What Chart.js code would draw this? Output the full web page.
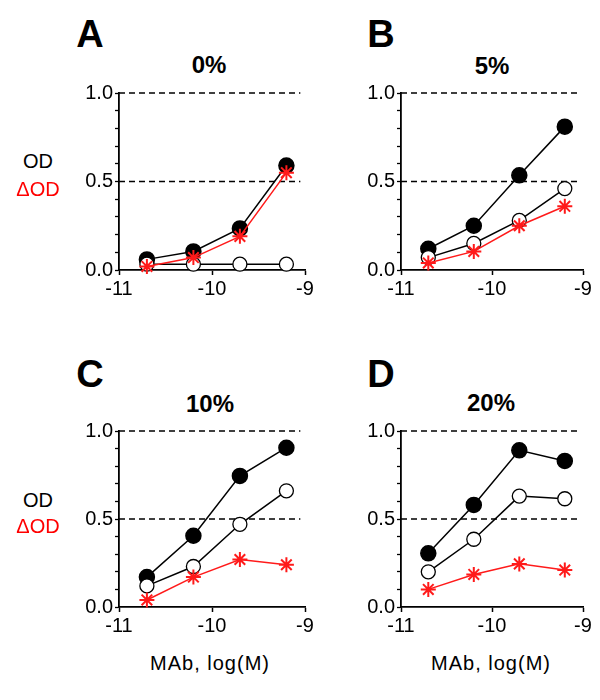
<!DOCTYPE html>
<html>
<head>
<meta charset="utf-8">
<script src="https://cdn.jsdelivr.net/npm/chart.js@4"></script>
<style>
    html, body { margin: 0; padding: 0; background: #fff; overflow: hidden; }
    body { width: 600px; height: 700px; position: relative; font-family: "Liberation Sans", Arial, sans-serif; }
    canvas { position: absolute; }
    .txt { position: absolute; transform: translate(-50%, -50%); line-height: 1; white-space: nowrap; }
    .letter { font-size: 38px; font-weight: bold; }
    .title { font-size: 24px; font-weight: bold; }
    .ylab { font-size: 20px; }
    .xlab { font-size: 20px; letter-spacing: 1px; }
</style>
</head>
<body>
<canvas id="chartA" width="260" height="221" style="left:60px; top:79px;"></canvas>
<canvas id="chartB" width="256" height="221" style="left:342px; top:79px;"></canvas>
<canvas id="chartC" width="260" height="220" style="left:60px; top:417px;"></canvas>
<canvas id="chartD" width="256" height="220" style="left:342px; top:417px;"></canvas>

<div class="txt letter" style="left:90px; top:34px;">A</div>
<div class="txt letter" style="left:381px; top:34px;">B</div>
<div class="txt letter" style="left:90px; top:374px;">C</div>
<div class="txt letter" style="left:381px; top:374px;">D</div>

<div class="txt title" style="left:209px; top:65px;">0%</div>
<div class="txt title" style="left:492px; top:66px;">5%</div>
<div class="txt title" style="left:210px; top:404px;">10%</div>
<div class="txt title" style="left:491px; top:403px;">20%</div>

<div class="txt ylab" style="left:38px; top:161px;">OD</div>
<div class="txt ylab" style="left:38px; top:189px; color:#ff0000;">ΔOD</div>
<div class="txt ylab" style="left:38px; top:500px;">OD</div>
<div class="txt ylab" style="left:38px; top:526px; color:#ff0000;">ΔOD</div>

<div class="txt xlab" style="left:210px; top:663px;">MAb, log(M)</div>
<div class="txt xlab" style="left:491px; top:663px;">MAb, log(M)</div>

<script>
// MAb concentration, log(M)
const logConc = [-10.7, -10.2, -9.7, -9.2];

// panel A, 0%
const filledA = [0.06, 0.105, 0.235, 0.59];
const openA = [0.033, 0.033, 0.033, 0.033];
const deltaA = [0.02, 0.07, 0.19, 0.55];

// panel B, 5%
const filledB = [0.12, 0.25, 0.535, 0.81];
const openB = [0.07, 0.15, 0.28, 0.46];
const deltaB = [0.04, 0.105, 0.25, 0.36];

// panel C, 10%
const filledC = [0.17, 0.405, 0.745, 0.905];
const openC = [0.12, 0.23, 0.47, 0.66];
const deltaC = [0.04, 0.17, 0.27, 0.24];

// panel D, 20%
const filledD = [0.305, 0.58, 0.89, 0.83];
const openD = [0.20, 0.385, 0.63, 0.615];
const deltaD = [0.10, 0.185, 0.245, 0.21];

// dashed reference levels and their x extent
const refLevels = [0.5, 1.0];
const refRange = [-11, -9.05];

const yLabelled = [0, 0.5, 1.0];
const xTicks = [-11, -10, -9];

const tickFont = { family: '"Liberation Sans", Arial, sans-serif', size: 20 };

function points(values) {
    return values.map((v, i) => ({ x: logConc[i], y: v }));
}

function makeChart(id, filled, open, delta) {
    const datasets = [
        {
            data: points(delta),
            borderColor: '#ff1a1a',
            borderWidth: 1.5,
            pointStyle: 'star',
            pointRadius: 7.5,
            pointBorderColor: '#ff1a1a',
            pointBorderWidth: 2,
            clip: false
        },
        {
            data: points(open),
            borderColor: '#000',
            borderWidth: 1.5,
            pointStyle: 'circle',
            pointRadius: 7,
            pointBackgroundColor: '#fff',
            pointBorderColor: '#000',
            pointBorderWidth: 1.3,
            clip: false
        },
        {
            data: points(filled),
            borderColor: '#000',
            borderWidth: 1.5,
            pointStyle: 'circle',
            pointRadius: 7.5,
            pointBackgroundColor: '#000',
            pointBorderColor: '#000',
            clip: false
        }
    ];
    refLevels.forEach(level => {
        datasets.push({
            data: refRange.map(x => ({ x: x, y: level })),
            borderColor: '#000',
            borderWidth: 1.4,
            borderDash: [6, 4],
            pointRadius: 0,
            clip: false
        });
    });

    return new Chart(document.getElementById(id), {
        type: 'line',
        data: { datasets: datasets },
        options: {
            responsive: false,
            animation: false,
            layout: { padding: { top: 10, right: 15, left: 0, bottom: 0 } },
            plugins: {
                legend: { display: false },
                tooltip: { enabled: false }
            },
            scales: {
                x: {
                    type: 'linear',
                    min: -11,
                    max: -9,
                    afterBuildTicks: axis => { axis.ticks = xTicks.map(v => ({ value: v })); },
                    afterFit: axis => { axis.height = 30; },
                    ticks: { padding: 2, maxRotation: 0, autoSkip: false, color: '#000', font: tickFont, callback: v => String(v) },
                    grid: { drawOnChartArea: false, tickLength: 5, tickColor: '#000', tickWidth: 1.5 },
                    border: { color: '#000', width: 1.8 }
                },
                y: {
                    min: 0,
                    max: 1,
                    afterFit: axis => { axis.width = 59; },
                    ticks: {
                        stepSize: 0.1,
                        padding: 2,
                        autoSkip: false,
                        color: '#000',
                        font: tickFont,
                        callback: v => yLabelled.some(l => Math.abs(l - v) < 1e-6) ? v.toFixed(1) : ''
                    },
                    grid: { drawOnChartArea: false, tickLength: 4, tickColor: '#000', tickWidth: 1.3 },
                    border: { color: '#000', width: 1.8 }
                }
            }
        }
    });
}

document.addEventListener("DOMContentLoaded", function() {
    makeChart('chartA', filledA, openA, deltaA);
    makeChart('chartB', filledB, openB, deltaB);
    makeChart('chartC', filledC, openC, deltaC);
    makeChart('chartD', filledD, openD, deltaD);
});
</script>
</body>
</html>
